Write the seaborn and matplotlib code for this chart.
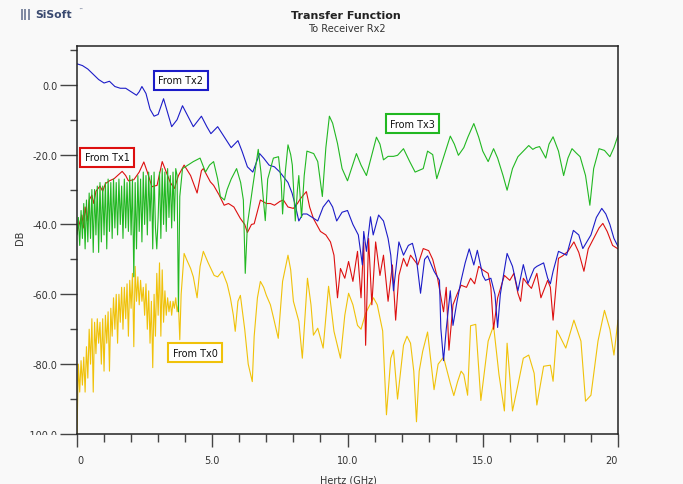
import numpy as np
import pandas as pd
import matplotlib
matplotlib.use("Agg")
import matplotlib.pyplot as plt
import seaborn as sns
from matplotlib.ticker import FixedLocator, FuncFormatter, MultipleLocator
from matplotlib.transforms import Bbox

# ---------------- data ----------------
series_names = ["From Tx0", "From Tx1", "From Tx2", "From Tx3"]

tx2_ghz = [0, 0.2, 0.4, 0.6, 0.8, 1.0, 1.2, 1.4, 1.6, 1.8, 2.0, 2.2, 2.3, 2.4, 2.55, 2.7, 2.85, 3.0, 3.2, 3.35,
           3.5, 3.7, 3.9, 4.1, 4.3, 4.5, 4.6, 4.8, 4.95, 5.2, 5.45, 5.7, 5.95, 6.1, 6.3, 6.5, 6.75, 6.9, 7.1, 7.3,
           7.5, 7.8, 7.95, 8.07, 8.2, 8.35, 8.5, 8.7, 8.9, 9.1, 9.3, 9.45, 9.6, 9.8, 10.0, 10.2, 10.4, 10.55, 10.6, 10.7,
           10.85, 10.95, 11.15, 11.33, 11.5, 11.6, 11.7, 11.9, 12.07, 12.25, 12.4, 12.55, 12.7, 12.85, 12.96, 13.2, 13.4, 13.45, 13.55, 13.65,
           13.8, 13.9, 14.05, 14.2, 14.35, 14.5, 14.67, 14.8, 15.0, 15.1, 15.3, 15.45, 15.55, 15.65, 15.9, 16.1, 16.3, 16.5, 16.67, 16.9,
           17.0, 17.25, 17.4, 17.5, 17.6, 17.8, 18.1, 18.35, 18.55, 18.7, 19.0, 19.2, 19.4, 19.55, 19.7, 19.85, 20.0]
tx2_db = [6, 5.5, 4.5, 3, 1.5, 0.5, 1, -0.5, -1, -1, -2, -3, -2, -0.5, -2.5, -7, -9, -8.5, -4, -8,
          -12, -10, -6, -9, -12, -10, -9, -12, -14, -12, -15, -18, -16, -19, -23.5, -25, -19.7, -21, -23, -23.5,
          -25, -28, -31, -34.5, -39, -37, -37, -38, -39, -35, -33, -35, -39, -36.5, -36, -40, -43, -51.6, -42, -47.7,
          -37.8, -43, -37.3, -39, -44, -48.8, -59, -45, -48.8, -46, -45.4, -50, -59.7, -50, -49, -53.4, -56, -69.7, -79, -70,
          -59, -68.9, -62, -56, -51, -47, -51.6, -47.4, -54.6, -56, -55.4, -60, -69.5, -60, -48.3, -52, -59, -51.5, -56.9, -52.6,
          -52, -51, -55.4, -57, -53.4, -47.7, -48.8, -41.7, -43, -46.9, -43, -38, -35.4, -37, -40, -44, -46.3]

tx1_ghz = [0, 0.08, 0.18, 0.25, 0.3, 0.38, 0.45, 0.55, 0.62, 0.7, 0.85, 0.95, 1.05, 1.2, 1.37, 1.5, 1.67, 1.8, 1.9, 2.1,
           2.3, 2.47, 2.6, 2.77, 2.96, 3.15, 3.3, 3.45, 3.6, 3.75, 3.96, 4.2, 4.44, 4.6, 4.67, 4.93, 5.05, 5.25, 5.44, 5.6,
           5.8, 6.04, 6.2, 6.3, 6.45, 6.55, 6.78, 7.0, 7.15, 7.3, 7.5, 7.63, 7.8, 8.0, 8.15, 8.26, 8.48, 8.6, 8.74, 9.0,
           9.2, 9.37, 9.5, 9.63, 9.74, 9.9, 10.04, 10.2, 10.37, 10.5, 10.6, 10.67, 10.78, 10.9, 11.04, 11.2, 11.33, 11.5, 11.66, 11.78,
           11.9, 12.07, 12.2, 12.33, 12.6, 12.8, 13.0, 13.15, 13.33, 13.55, 13.65, 13.75, 13.9, 14.05, 14.2, 14.4, 14.55, 14.7, 14.85, 15.0,
           15.2, 15.3, 15.4, 15.55, 15.8, 16.0, 16.15, 16.3, 16.4, 16.5, 16.65, 16.8, 17.0, 17.15, 17.4, 17.5, 17.6, 17.8, 17.95, 18.15,
           18.37, 18.55, 18.74, 18.9, 19.1, 19.3, 19.44, 19.6, 19.8, 20.0]
tx1_db = [-42.6, -40, -37.3, -41, -35, -39, -33, -31.6, -34, -30.5, -29, -30.5, -28.3, -27.5, -26.9, -26, -24.8, -26, -27.5, -27.2,
          -25, -22.1, -25, -29.2, -28.8, -22, -25, -28, -29.7, -26, -23, -26, -31, -24.6, -24, -27.8, -28.8, -31.5, -34.5, -34,
          -35, -38.3, -40, -42.3, -40, -39.8, -33, -34, -34, -34.5, -33.4, -33, -35, -35.4, -34, -32.6, -30.6, -35, -38.3, -42,
          -43, -45, -48.8, -61, -52.6, -55.4, -50.6, -56.3, -47.7, -61, -45, -74.6, -44, -63, -45, -54.6, -48.8, -62, -51.6, -67.4,
          -54.6, -49.7, -52, -48.8, -51.6, -46.9, -47.5, -50, -55.4, -65, -58, -76, -63, -60, -57.4, -58, -55.4, -57, -52, -53,
          -54, -58, -70, -61, -54.6, -56, -54, -59.7, -62, -55.4, -57, -58.3, -54, -61, -56, -58, -67.4, -49.7, -49, -47.7,
          -45, -48, -53.4, -47, -44, -41, -39.7, -42, -46, -47]

tx3_ghz = [0.00, 0.05, 0.10, 0.15, 0.20, 0.25, 0.30, 0.35, 0.40, 0.45, 0.50, 0.55, 0.60, 0.65, 0.70, 0.75, 0.80, 0.85, 0.90, 0.95,
           1.00, 1.05, 1.10, 1.15, 1.20, 1.25, 1.30, 1.35, 1.40, 1.45, 1.50, 1.55, 1.60, 1.65, 1.70, 1.75, 1.80, 1.85, 1.90, 1.95,
           2.00, 2.05, 2.10, 2.15, 2.20, 2.25, 2.30, 2.35, 2.40, 2.45, 2.50, 2.55, 2.60, 2.65, 2.70, 2.75, 2.80, 2.85, 2.90, 2.95,
           3.00, 3.05, 3.10, 3.15, 3.20, 3.25, 3.30, 3.35, 3.40, 3.45, 3.50, 3.55, 3.60, 3.65, 3.70, 3.75,
           3.8, 3.9, 4.1, 4.3, 4.55, 4.75, 4.9, 5.05, 5.2, 5.3, 5.45, 5.55, 5.7, 5.9, 6.05, 6.15, 6.22, 6.3, 6.5, 6.7,
           6.8, 6.96, 7.05, 7.26, 7.45, 7.55, 7.6, 7.7, 7.8, 7.9, 7.96, 8.07, 8.15, 8.2, 8.3, 8.4, 8.5, 8.75, 8.9, 9.07,
           9.2, 9.33, 9.45, 9.63, 9.8, 10.0, 10.15, 10.33, 10.5, 10.7, 10.9, 11.07, 11.2, 11.33, 11.5, 11.7, 11.85, 12.07, 12.3, 12.5,
           12.65, 12.8, 12.96, 13.15, 13.3, 13.5, 13.8, 13.95, 14.1, 14.3, 14.45, 14.67, 14.85, 15.0, 15.2, 15.4, 15.55, 15.75, 15.9, 16.1,
           16.3, 16.5, 16.7, 16.85, 16.96, 17.1, 17.33, 17.45, 17.6, 17.8, 17.99, 18.15, 18.3, 18.45, 18.6, 18.8, 18.96, 19.1, 19.3, 19.5,
           19.7, 19.85, 20.0]
tx3_db = [-43, -38, -46, -36, -44, -34, -47, -33, -45, -31, -44, -30, -48, -30, -43, -29, -48, -28, -45, -29,
          -43, -28, -47, -27, -42, -28, -44, -27, -41, -28, -43, -27, -40, -29, -44, -27, -41, -28, -42, -26,
          -43, -27, -55, -28, -47, -26, -42, -27, -45, -25, -40, -26, -43, -25, -39, -26, -47, -25, -41, -47,
          -38, -25, -44, -24, -40, -25, -42, -24, -38, -26, -41, -25, -39, -24, -26, -65,
          -32, -24, -23, -22, -21, -25, -23, -22, -27, -32, -33, -30, -27, -24, -28, -33, -54, -40, -29, -18.5,
          -25, -38.9, -27, -21, -20.6, -28, -37, -25, -17.2, -20, -23, -39, -30, -26, -38, -26, -19, -19.7, -22, -32,
          -18, -9, -11, -16.8, -24, -27.5, -24, -19.7, -23, -26, -20, -15, -17, -21.5, -20.5, -20.5, -20.2, -18.3, -22, -25,
          -24.5, -24, -19, -20, -26.9, -22, -14.7, -17, -20.2, -18, -15, -11.1, -15, -19, -22, -18.3, -21, -26, -30.2, -24,
          -20.6, -19, -17.4, -18.5, -18, -17.7, -21, -17, -14.9, -19, -26, -21, -18.3, -19.5, -20.6, -26, -34.5, -24, -18.3, -18.8,
          -20.6, -18, -14.5]

tx0_ghz = [0.00, 0.05, 0.10, 0.15, 0.20, 0.25, 0.30, 0.35, 0.40, 0.45, 0.50, 0.55, 0.60, 0.65, 0.70, 0.75, 0.80, 0.85, 0.90, 0.95,
           1.00, 1.05, 1.10, 1.15, 1.20, 1.25, 1.30, 1.35, 1.40, 1.45, 1.50, 1.55, 1.60, 1.65, 1.70, 1.75, 1.80, 1.85, 1.90, 1.95,
           2.00, 2.05, 2.10, 2.15, 2.20, 2.25, 2.30, 2.35, 2.40, 2.45, 2.50, 2.55, 2.60, 2.65, 2.70, 2.75, 2.80, 2.85, 2.90, 2.95,
           3.00, 3.05, 3.10, 3.15, 3.20, 3.25, 3.30, 3.35, 3.40, 3.45, 3.50, 3.55, 3.60, 3.65, 3.70, 3.75, 3.80,
           3.85, 3.96, 4.05, 4.2, 4.3, 4.44, 4.55, 4.67, 4.85, 5.07, 5.2, 5.37, 5.55, 5.67, 5.78, 5.85, 5.95, 6.04, 6.2, 6.33,
           6.48, 6.55, 6.67, 6.78, 6.9, 7.0, 7.15, 7.27, 7.44, 7.6, 7.8, 7.9, 8.0, 8.2, 8.33, 8.52, 8.65, 8.74, 8.9, 9.1,
           9.3, 9.5, 9.74, 9.9, 10.04, 10.2, 10.37, 10.5, 10.67, 10.96, 11.1, 11.3, 11.44, 11.6, 11.7, 11.85, 12.07, 12.2, 12.33, 12.45,
           12.55, 12.65, 12.78, 12.96, 13.2, 13.35, 13.55, 13.8, 13.93, 14.07, 14.2, 14.3, 14.44, 14.55, 14.74, 14.93, 15.2, 15.4, 15.6, 15.8,
           15.9, 16.1, 16.3, 16.5, 16.7, 16.9, 17.0, 17.25, 17.5, 17.6, 17.74, 18.07, 18.37, 18.63, 18.8, 19.0, 19.26, 19.5, 19.7, 19.85,
           20.0]
tx0_db = [-100, -80, -88, -79, -86, -78, -88, -75, -84, -70, -80, -67, -88, -68, -77, -67, -74, -68, -80, -67,
          -82, -66, -74, -65, -82, -64, -72, -61, -70, -60, -74, -60, -68, -58, -70, -58, -67, -57, -72, -56,
          -64, -54, -75, -52, -62, -55, -63, -56, -62, -58, -66, -57, -70, -59, -74, -62, -81, -60, -72, -54,
          -66, -51, -72, -53, -68, -59, -66, -61, -65, -62, -66, -62, -64, -61, -65, -63, -73,
          -60, -48.3, -50, -52.6, -55, -61, -52, -47.7, -51, -54.6, -55, -53.4, -57, -61, -66, -70.6, -62, -60.3, -70, -80,
          -85, -72, -61, -56.3, -58, -60.3, -63, -66.9, -72.6, -56.3, -48.8, -53, -62, -67.7, -78.3, -55.4, -63, -71.7, -69.7, -75.4,
          -57.7, -70.6, -78.3, -66, -59.7, -63, -68.9, -70, -65.4, -61, -63, -70.5, -94.5, -78.3, -76, -90, -74.6, -72, -74, -82,
          -96.5, -82, -76.3, -70.8, -87.3, -80, -78, -85.5, -89, -85, -82, -83, -88.9, -69, -68.6, -90.4, -73.4, -69, -83, -93.4,
          -74, -93.4, -86, -78.3, -77.4, -82.6, -91.7, -80.6, -80.3, -84.9, -70.3, -75.4, -67.4, -73.4, -90.6, -88.9, -73.4, -64.6, -70, -77.4,
          -67.4]

y_ticks = [0, -20, -40, -60, -80, -100]
x_ticks = [0, 5, 10, 15, 20]
x_tick_labels = ["0", "5.0", "10.0", "15.0", "20"]

# ---------------- build long table ----------------
frames = []
for name, xs, ys in [("From Tx0", tx0_ghz, tx0_db), ("From Tx1", tx1_ghz, tx1_db),
                     ("From Tx2", tx2_ghz, tx2_db), ("From Tx3", tx3_ghz, tx3_db)]:
    frames.append(pd.DataFrame({"GHz": xs, "dB": ys, "series": name}))
df = pd.concat(frames, ignore_index=True)

palette = {"From Tx0": "#f0c20a", "From Tx1": "#dd1010", "From Tx2": "#1c1cc8", "From Tx3": "#22b822"}

sns.set_style("white")
plt.rcParams["font.family"] = ["DejaVu Sans"]

W, H = 683, 485
bg = "#f9f9f9"
fig = plt.figure(figsize=(W / 100, H / 100), dpi=100, facecolor=bg)
ax = fig.add_axes([77 / W, 1 - 435 / H, 541 / W, 388 / H])
ax.set_facecolor(bg)

sns.lineplot(data=df, x="GHz", y="dB", hue="series", hue_order=series_names, palette=palette,
             estimator=None, sort=False, legend=False, linewidth=0.8, ax=ax)

ax.set_xlim(0, 20)
ax.set_ylim(-100, 11.1)
ax.set_xlabel("")
ax.set_ylabel("")

for sp in ax.spines.values():
    sp.set_visible(True)
    sp.set_color("#222222")
    sp.set_linewidth(1.1)

ax.yaxis.set_major_locator(FixedLocator(y_ticks))
ax.yaxis.set_minor_locator(MultipleLocator(10))
ax.yaxis.set_major_formatter(FuncFormatter(lambda v, p: f"{v:.1f}".replace("\u2212", "-")))
ax.xaxis.set_major_locator(FixedLocator(x_ticks))
ax.xaxis.set_minor_locator(MultipleLocator(1))
ax.set_xticklabels(x_tick_labels)

ax.tick_params(axis="y", which="major", direction="out", length=12, width=1, color="#444444",
               labelsize=7, labelcolor="#333333", pad=2, left=True)
ax.tick_params(axis="y", which="minor", direction="out", length=5, width=1, color="#444444", left=True)
ax.tick_params(axis="x", which="major", direction="out", length=9, width=1, color="#444444",
               labelsize=7, labelcolor="#333333", pad=6, bottom=True)
ax.tick_params(axis="x", which="minor", direction="out", length=6, width=1, color="#444444", bottom=True)

xl = ax.get_xticklabels()
xl[0].set_horizontalalignment("left")
xl[-1].set_horizontalalignment("right")

# annotation boxes
boxes = [("From Tx2", 0.192, 0.912), ("From Tx1", 0.056, 0.713),
         ("From Tx3", 0.620, 0.800), ("From Tx0", 0.218, 0.210)]
for name, fx, fy in boxes:
    ax.text(fx, fy, name, transform=ax.transAxes, ha="center", va="center", fontsize=7, color="#111111",
            bbox=dict(boxstyle="square,pad=0.45", facecolor="white", edgecolor=palette[name], linewidth=1.5),
            zorder=5)

# titles and labels
fig.text(346 / W, 1 - 16 / H, "Transfer Function", ha="center", va="center", fontsize=8, fontweight="bold",
         color="#222222")
fig.text(347 / W, 1 - 29 / H, "To Receiver Rx2", ha="center", va="center", fontsize=7, color="#333333")
fig.text(348 / W, 1 - 481 / H, "Hertz (GHz)", ha="center", va="center", fontsize=7, color="#333333")
fig.text(20 / W, 1 - 238 / H, "DB", ha="center", va="center", rotation=90, fontsize=7, color="#333333")
fig.text(20 / W, 1 - 15 / H, "|||", ha="left", va="center", fontsize=8, fontweight="bold", color="#3a4a70")
fig.text(35 / W, 1 - 15 / H, "SiSoft", ha="left", va="center", fontsize=7.8, fontweight="bold", color="#3a4a70")
fig.text(78 / W, 1 - 10 / H, "\u2122", ha="left", va="center", fontsize=3, color="#3a4a70")

fig.canvas.draw()
for lab in ax.get_yticklabels():
    if lab.get_text().startswith("-100"):
        lab.set_clip_box(Bbox.from_extents(0, H - 436, W, H))
        lab.set_clip_on(True)

fig.savefig("out.png", dpi=100, facecolor=bg)
